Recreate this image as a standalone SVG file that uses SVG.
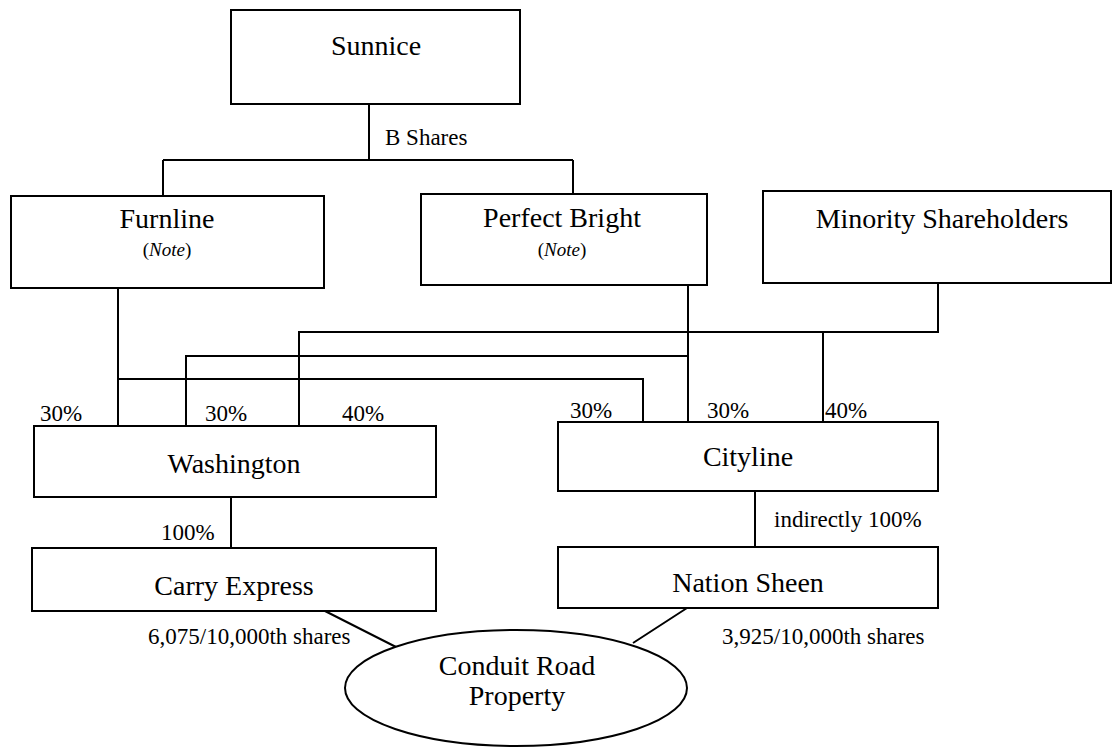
<svg xmlns="http://www.w3.org/2000/svg" width="1114" height="747" viewBox="0 0 1114 747" font-family="'Liberation Serif', 'Times New Roman', serif">
<style>
.box{fill:#fff;stroke:#000;stroke-width:2}
.ln{fill:none;stroke:#000;stroke-width:2}
text{font-family:'Liberation Serif','Times New Roman',serif;fill:#000}
.t{font-size:28px;text-anchor:middle}
.lb{font-size:23px}
.n{font-size:19px;text-anchor:middle}
</style>
<rect width="1114" height="747" fill="#fff"/>
<g id="connectors">
<path class="ln" d="M369,104 V160 M163,160 H573 M163,160 V196 M573,160 V194"/>
<path class="ln" d="M118,288 V427 M118,379 H643 V423"/>
<path class="ln" d="M186,427 V356 H688 M688,285 V423"/>
<path class="ln" d="M299,427 V332 H938 V283 M823,332 V423"/>
<path class="ln" d="M231,497 V548 M755,491 V547"/>
<path class="ln" d="M325,611 L398,648 M687,608 L633,643"/>
<text class="lb" x="385" y="145">B Shares</text>
<text class="lb" x="40" y="421">30%</text>
<text class="lb" x="205" y="421">30%</text>
<text class="lb" x="342" y="421">40%</text>
<text class="lb" x="570" y="418">30%</text>
<text class="lb" x="707" y="418">30%</text>
<text class="lb" x="825" y="418">40%</text>
<text class="lb" x="161" y="540">100%</text>
<text class="lb" x="774" y="527">indirectly 100%</text>
<text class="lb" x="148" y="644">6,075/10,000th shares</text>
<text class="lb" x="722" y="644">3,925/10,000th shares</text>
</g>
<g id="sunnice"><rect class="box" x="231" y="10" width="289" height="94"/><text class="t" x="376" y="55">Sunnice</text></g>
<g id="furnline"><rect class="box" x="11" y="196" width="313" height="92"/><text class="t" x="167" y="228">Furnline</text><text class="n" x="167" y="256">(<tspan font-style="italic">Note</tspan>)</text></g>
<g id="perfect-bright"><rect class="box" x="421" y="194" width="286" height="91"/><text class="t" x="562" y="227">Perfect Bright</text><text class="n" x="562" y="256">(<tspan font-style="italic">Note</tspan>)</text></g>
<g id="minority"><rect class="box" x="763" y="191" width="348" height="92"/><text class="t" x="942" y="228">Minority Shareholders</text></g>
<g id="washington"><rect class="box" x="34" y="426" width="402" height="71"/><text class="t" x="234" y="473">Washington</text></g>
<g id="cityline"><rect class="box" x="558" y="422" width="380" height="69"/><text class="t" x="748" y="466">Cityline</text></g>
<g id="carry-express"><rect class="box" x="32" y="548" width="404" height="63"/><text class="t" x="234" y="595">Carry Express</text></g>
<g id="nation-sheen"><rect class="box" x="558" y="547" width="380" height="61"/><text class="t" x="748" y="592">Nation Sheen</text></g>
<g id="conduit"><ellipse class="box" cx="516" cy="688" rx="171" ry="58"/><text class="t" x="517" y="675">Conduit Road</text><text class="t" x="517" y="705">Property</text></g>
</svg>
